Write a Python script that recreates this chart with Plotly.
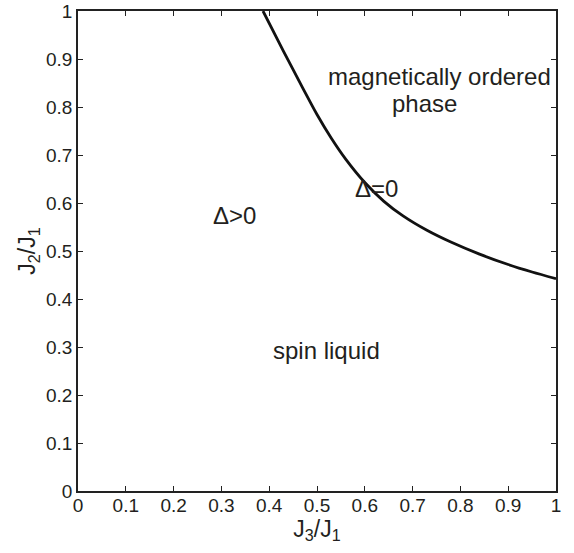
import plotly.graph_objects as go

# boundary curve Delta=0 (J3/J1 vs J2/J1)
j3 = [0.387, 0.43, 0.47, 0.50, 0.53, 0.56, 0.60, 0.64, 0.68, 0.73, 0.78,
      0.84, 0.90, 0.95, 1.0]
j2 = [1.0, 0.916, 0.840, 0.7845, 0.735, 0.6915, 0.6427, 0.6035, 0.5731,
      0.5431, 0.5186, 0.4934, 0.4718, 0.4563, 0.4423]

tick_vals = [0, 0.1, 0.2, 0.3, 0.4, 0.5, 0.6, 0.7, 0.8, 0.9, 1]
tick_text = ["0", "0.1", "0.2", "0.3", "0.4", "0.5", "0.6", "0.7", "0.8", "0.9", "1"]

labels = ["magnetically ordered", "phase", "Δ=0", "Δ>0", "spin liquid"]
label_x = [0.757, 0.724, 0.625, 0.328, 0.52]
label_y = [0.863, 0.808, 0.63, 0.574, 0.292]

FONT = "Liberation Sans, Arial, Helvetica, sans-serif"
INK = "#231f20"

fig = go.Figure()
fig.add_trace(go.Scatter(x=j3, y=j2, mode="lines",
                         line=dict(color="#111111", width=2.8, shape="spline",
                                   smoothing=0.8),
                         showlegend=False, hoverinfo="skip"))

for t, x, y in zip(labels, label_x, label_y):
    fig.add_annotation(x=x, y=y, text=t, showarrow=False, xref="x", yref="y",
                       font=dict(family=FONT, size=24, color=INK))

axis_common = dict(range=[0, 1], tickvals=tick_vals, ticktext=tick_text,
                   ticks="inside", ticklen=5, tickwidth=1, tickcolor="#222",
                   showline=True, linecolor="#222", linewidth=1.5, mirror="ticks",
                   showgrid=False, zeroline=False, automargin=False,
                   tickfont=dict(family=FONT, size=19, color=INK))

fig.update_xaxes(**axis_common, ticklabelstandoff=-4,
                 title=dict(text="J<sub>3</sub>/J<sub>1</sub>", standoff=0,
                            font=dict(family=FONT, size=23, color=INK)))
fig.update_yaxes(**axis_common,
                 title=dict(text="J<sub>2</sub>/J<sub>1</sub>", standoff=4,
                            font=dict(family=FONT, size=23, color=INK)))

fig.update_layout(width=574, height=553,
                  margin=dict(l=78, r=18, t=11, b=62),
                  plot_bgcolor="white", paper_bgcolor="white")

fig.write_html("out.html", config={"displayModeBar": False},
               post_script="document.body.style.margin='0';document.body.style.overflow='hidden';")
